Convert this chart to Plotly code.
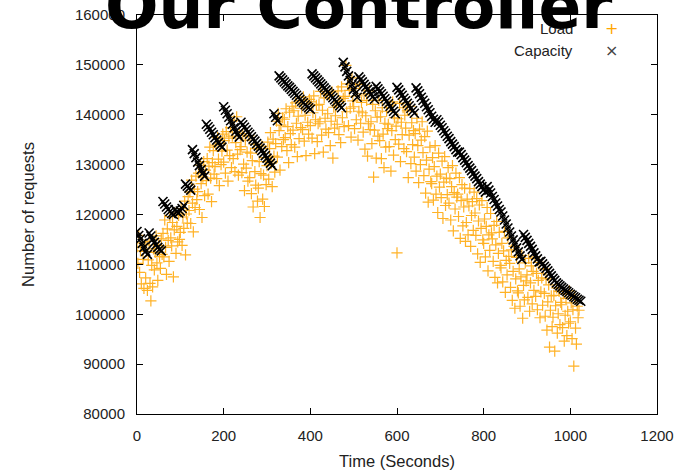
import plotly.graph_objects as go

# Load (requests, in thousands) sampled every 2 s from t=0 to t=1020
LOAD_T = list(range(0, 1021, 2))
LOAD_K = [
    113.5, 110.2, 115.8, 108.4, 112.7, 106.1, 114.3, 111.0, 105.2, 113.9,
    107.3, 112.6, 104.8, 110.9, 114.6, 106.2, 102.7, 109.8, 105.5, 113.1,
    108.9, 112.4, 115.7, 110.3, 106.8, 113.8, 111.6, 109.2, 115.1, 112.0,
    116.2, 111.5, 118.9, 113.4, 108.0, 117.1, 114.8, 110.6, 119.6, 115.3,
    113.7, 118.4, 107.5, 116.9, 120.3, 112.2, 117.6, 114.5, 119.8, 115.0,
    116.4, 121.2, 113.8, 119.5, 117.2, 122.7, 111.9, 120.1, 118.3, 123.6,
    120.8, 124.5, 118.2, 126.9, 122.3, 116.5, 125.1, 121.4, 127.7, 123.0,
    124.6, 128.3, 121.0, 129.9, 126.2, 119.4, 127.5, 130.6, 123.8, 128.9,
    126.8, 131.2, 124.1, 129.7, 133.5, 127.3, 122.6, 130.4, 132.8, 128.1,
    129.6, 133.9, 127.2, 135.4, 131.1, 125.8, 134.2, 130.0, 132.7, 136.1,
    130.5, 134.8, 128.3, 136.6, 132.9, 126.7, 135.3, 131.8, 137.4, 129.4,
    135.7, 131.2, 138.9, 128.6, 134.4, 139.6, 132.1, 127.9, 136.3, 133.0,
    133.6, 128.4, 136.2, 130.1, 124.8, 134.9, 129.3, 132.5, 126.7, 135.8,
    127.4, 132.3, 124.2, 130.8, 121.5, 134.1, 128.6, 125.9, 133.2, 122.7,
    125.3, 130.6, 119.4, 128.2, 133.7, 123.1, 127.9, 121.6, 131.4, 126.0,
    129.8, 134.5, 127.1, 133.2, 136.4, 130.3, 125.6, 135.1, 131.7, 128.5,
    134.2, 138.7, 131.5, 140.3, 136.8, 128.9, 137.9, 133.6, 139.4, 135.0,
    139.1, 135.4, 141.2, 132.8, 137.6, 130.4, 140.5, 136.2, 134.0, 141.7,
    136.9, 140.8, 133.5, 142.4, 138.3, 131.6, 139.7, 135.2, 142.9, 137.4,
    141.3, 137.0, 143.6, 134.7, 139.9, 131.8, 142.2, 138.5, 136.1, 143.1,
    137.8, 142.6, 135.3, 140.4, 143.8, 132.2, 139.0, 141.9, 134.6, 138.2,
    142.1, 138.6, 144.7, 135.9, 140.9, 132.5, 143.4, 139.3, 137.1, 144.2,
    140.2, 136.4, 143.9, 133.8, 138.7, 144.6, 131.3, 141.5, 137.3, 139.8,
    141.9, 138.1, 144.8, 136.0, 142.7, 134.4, 145.6, 139.4, 143.3, 137.6,
    143.7, 149.9, 140.6, 146.2, 137.8, 144.9, 141.3, 135.5, 147.4, 142.8,
    141.6, 137.2, 145.3, 139.0, 143.8, 134.9, 140.7, 146.1, 138.3, 142.5,
    140.4, 136.5, 144.2, 133.1, 139.8, 142.9, 131.7, 138.2, 144.8, 137.0,
    138.6, 134.2, 142.1, 127.5, 136.9, 140.8, 131.3, 139.5, 135.7, 142.9,
    134.8, 139.6, 131.2, 141.4, 136.1, 129.4, 138.3, 133.5, 140.7, 137.2,
    138.1, 133.6, 141.9, 128.7, 136.8, 142.6, 131.9, 139.4, 135.0, 137.7,
    112.3, 139.2, 134.1, 142.3, 130.6, 138.5, 136.0, 141.4, 133.2, 139.9,
    137.3, 132.6, 140.8, 127.4, 135.9, 141.7, 130.2, 138.4, 134.0, 136.8,
    131.5, 136.2, 128.7, 139.3, 133.8, 126.4, 137.1, 130.0, 134.9, 138.6,
    132.4, 127.8, 135.6, 124.3, 130.9, 136.7, 122.5, 129.1, 133.5, 126.6,
    126.2, 131.4, 122.9, 129.6, 133.8, 124.1, 127.7, 120.4, 132.3, 125.5,
    128.1, 123.4, 130.7, 119.2, 126.5, 131.6, 121.8, 127.3, 124.0, 129.4,
    122.3, 127.2, 118.9, 125.6, 129.8, 116.7, 124.4, 121.1, 128.3, 123.5,
    124.1, 119.6, 127.4, 115.2, 122.8, 126.0, 117.7, 121.5, 125.3, 114.6,
    118.4, 123.1, 115.9, 121.7, 125.2, 113.6, 119.8, 122.6, 116.8, 124.5,
    120.3, 115.8, 123.2, 112.1, 118.7, 121.9, 110.4, 117.2, 122.8, 114.9,
    114.2, 119.1, 111.5, 117.6, 121.4, 108.7, 115.9, 112.8, 120.2, 116.3,
    115.1, 110.6, 117.8, 107.4, 113.9, 118.6, 106.3, 112.2, 116.4, 109.8,
    109.3, 114.2, 106.5, 112.7, 116.6, 104.4, 110.8, 107.9, 115.3, 111.6,
    110.2, 105.4, 112.9, 102.8, 108.6, 113.6, 101.2, 107.1, 111.4, 104.7,
    104.3, 109.1, 101.6, 107.5, 111.8, 99.2, 105.8, 102.9, 110.3, 106.7,
    107.9, 103.4, 111.2, 100.6, 106.3, 109.7, 102.1, 108.6, 104.8, 111.5,
    103.6, 108.2, 100.9, 106.8, 110.4, 99.3, 104.5, 107.3, 101.8, 109.1,
    104.2, 99.6, 107.1, 96.8, 102.5, 105.9, 93.4, 100.8, 103.7, 97.5,
    99.4, 103.8, 92.6, 101.7, 105.3, 96.2, 100.1, 104.6, 97.9, 102.4,
    101.9, 97.3, 104.1, 94.6, 99.8, 103.2, 95.7, 100.6, 98.2, 104.7,
    98.5, 102.3, 95.1, 100.9, 89.6, 103.4, 97.2, 94.0, 101.6, 99.3,
    100.8,
]

# Capacity (requests, in thousands) sampled every 4 s from t=0 to t=1024
CAP_T = list(range(0, 1025, 4))
CAP_K = [
    116.6, 115.8, 115.1, 114.2, 113.4, 112.6, 112.0,
    116.3, 115.7, 115.0, 114.4, 113.9, 113.4, 113.0, 112.7,
    122.6, 122.1, 121.5, 121.0, 120.6, 120.2, 120.0,
    121.0, 120.5, 120.3, 120.7, 121.2, 121.8,
    126.1, 125.7, 125.3, 124.9,
    133.0, 132.2, 131.4, 130.5, 129.8, 129.0, 128.3, 127.7,
    138.1, 137.6, 137.1, 136.5, 136.0, 135.4, 134.9, 134.4, 133.9, 133.5,
    141.6, 140.9, 140.2, 139.5, 138.8, 138.1, 137.4, 136.7, 136.1, 135.5,
    138.5, 138.0, 137.5, 137.0, 136.5, 136.1, 135.6, 135.1, 134.7, 134.2,
    133.7, 133.3, 132.8, 132.3, 131.8, 131.3, 130.8, 130.3, 129.8,
    140.2, 139.5, 138.8,
    147.8, 147.4, 147.0, 146.6, 146.2, 145.8, 145.5, 145.1, 144.7, 144.3,
    143.9, 143.5, 143.1, 142.7, 142.4, 142.0, 141.7, 141.4, 141.1,
    148.2, 147.8, 147.4, 147.0, 146.6, 146.2, 145.8, 145.4, 145.0, 144.6,
    144.2, 143.8, 143.4, 143.0, 142.6, 142.2, 141.8, 141.4,
    150.5, 149.6, 148.7, 147.8, 146.9, 146.0, 145.1, 144.3, 143.5,
    147.6, 147.1, 146.6, 146.1, 145.6, 145.1, 144.6, 144.1, 143.6, 143.1,
    145.7, 145.2, 144.7, 144.2, 143.7, 143.2, 142.7, 142.2, 141.7, 141.2, 140.7, 140.2,
    145.5, 145.0, 144.4, 143.9, 143.3, 142.8, 142.3, 141.8, 141.3, 140.8, 140.3,
    145.4, 144.8, 144.2, 143.5, 142.9, 142.3, 141.6, 141.0, 140.4, 139.7, 139.1, 138.5,
    139.0, 138.5, 137.9, 137.4, 136.8, 136.3, 135.7, 135.2, 134.6, 134.1, 133.6, 133.0, 132.5,
    132.5, 132.0, 131.4, 130.9, 130.4, 129.8, 129.3, 128.8, 128.2, 127.7, 127.2, 126.6,
    126.1, 125.6, 125.0, 124.5,
    125.6, 124.9, 124.3, 123.6, 123.0, 122.3, 121.7, 121.0,
    120.5, 119.7, 118.9, 118.1, 117.3, 116.5, 115.7, 114.9, 114.1, 113.3, 112.5, 111.7, 111.0,
    116.0, 115.4, 114.8, 114.2, 113.6, 113.0, 112.3, 111.7, 111.1, 110.5,
    110.6, 110.1, 109.6, 109.2, 108.7, 108.2, 107.7, 107.2, 106.8, 106.3,
    106.0, 105.7, 105.4, 105.1, 104.8, 104.6, 104.3, 104.0, 103.8, 103.5,
    103.3, 103.0, 102.8, 102.6,
]

SERIES_NAMES = ["Load", "Capacity"]
TITLE = "Our Controller"
X_TITLE = "Time (Seconds)"
Y_TITLE = "Number of requests"

load_y = [v * 1000 for v in LOAD_K]
cap_y = [v * 1000 for v in CAP_K]

ORANGE = "rgb(255,165,0)"

fig = go.Figure()
fig.add_trace(go.Scatter(
    x=LOAD_T, y=load_y, mode="markers", name=SERIES_NAMES[0],
    marker=dict(symbol="cross-thin", size=8, line=dict(color=ORANGE, width=1.2), color=ORANGE),
    opacity=0.85,
))
fig.add_trace(go.Scatter(
    x=CAP_T, y=cap_y, mode="markers", name=SERIES_NAMES[1],
    marker=dict(symbol="x-thin", size=9, line=dict(color="black", width=1.6), color="black"),
))

tick_font = dict(family="Liberation Sans, Arial, sans-serif", size=15, color="#222")
title_font = dict(family="Liberation Sans, Arial, sans-serif", size=16.5, color="#222")

fig.update_layout(
    width=687, height=475,
    margin=dict(l=137, r=30, t=15, b=61),
    paper_bgcolor="white", plot_bgcolor="white",
    showlegend=False,
    font=tick_font,
    xaxis=dict(
        range=[0, 1200], dtick=200, tick0=0,
        ticks="inside", ticklen=6, tickcolor="black", tickwidth=1,
        showline=True, linecolor="black", linewidth=1, mirror="ticks",
        showgrid=False, zeroline=False, automargin=False,
        ticklabelstandoff=8,
        title=dict(text=X_TITLE, standoff=12, font=title_font),
        tickfont=tick_font,
    ),
    yaxis=dict(
        range=[80000, 160000], dtick=10000, tick0=80000, tickformat="d",
        ticks="inside", ticklen=6, tickcolor="black", tickwidth=1,
        showline=True, linecolor="black", linewidth=1, mirror="ticks",
        showgrid=False, zeroline=False, automargin=False,
        ticklabelstandoff=8,
        title=dict(text=Y_TITLE, standoff=36, font=title_font),
        tickfont=tick_font,
    ),
)

# Gnuplot-style key: label text then sample glyph, inside the top-right corner
fig.add_annotation(xref="paper", yref="paper", x=0.842, y=0.965, xanchor="right", yanchor="middle",
                   text=SERIES_NAMES[0], showarrow=False, font=tick_font)
fig.add_annotation(xref="paper", yref="paper", x=0.842, y=0.912, xanchor="right", yanchor="middle",
                   text=SERIES_NAMES[1], showarrow=False, font=tick_font)
fig.add_annotation(xref="paper", yref="paper", x=0.913, y=0.965, xanchor="center", yanchor="middle",
                   text="+", showarrow=False, font=dict(family="DejaVu Sans", size=16, color=ORANGE))
fig.add_annotation(xref="paper", yref="paper", x=0.913, y=0.912, xanchor="center", yanchor="middle",
                   text="×", showarrow=False, font=dict(family="DejaVu Sans", size=16, color="#444"))

# Big bold title overlapping the top of the frame
fig.add_annotation(xref="paper", yref="paper", x=0.425, y=1.022, xanchor="center", yanchor="middle",
                   text="<b>" + TITLE + "</b>", showarrow=False,
                   font=dict(family="DejaVu Sans", size=63, color="black"))

fig.write_html("out.html")
